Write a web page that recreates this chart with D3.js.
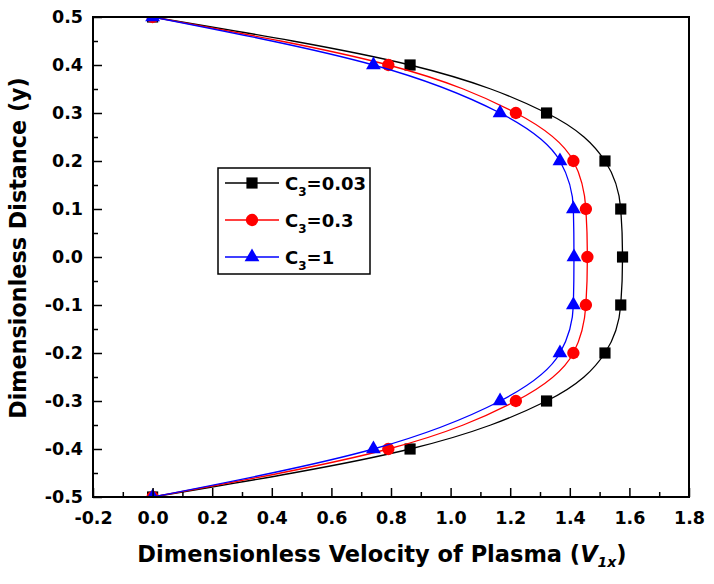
<!DOCTYPE html>
<html>
<head>
<meta charset="utf-8">
<script src="https://cdn.jsdelivr.net/npm/d3@7/dist/d3.min.js"></script>
<style>
  html, body { margin: 0; padding: 0; background: #fff; }
  svg { display: block; }
  text { font-family: "DejaVu Sans", sans-serif; font-weight: bold; fill: #000; }
</style>
</head>
<body>
<svg id="chart" width="714" height="584"></svg>
<script>
// ---- data ----
const yLevels = [0.5, 0.4, 0.3, 0.2, 0.1, 0.0, -0.1, -0.2, -0.3, -0.4, -0.5];
const vC003 = [0, 0.864, 1.322, 1.518, 1.571, 1.577, 1.571, 1.518, 1.322, 0.864, 0];
const vC03  = [0, 0.791, 1.219, 1.412, 1.454, 1.459, 1.454, 1.412, 1.219, 0.791, 0];
const vC1   = [0, 0.741, 1.166, 1.367, 1.412, 1.414, 1.412, 1.367, 1.166, 0.741, 0];
const seriesNames = ["0.03", "0.3", "1"];
const xTicks = [-0.2, 0.0, 0.2, 0.4, 0.6, 0.8, 1.0, 1.2, 1.4, 1.6, 1.8];
const yTicks = [-0.5, -0.4, -0.3, -0.2, -0.1, 0.0, 0.1, 0.2, 0.3, 0.4, 0.5];
const xMinor = [-0.1, 0.1, 0.3, 0.5, 0.7, 0.9, 1.1, 1.3, 1.5, 1.7];
const yMinor = [-0.45, -0.35, -0.25, -0.15, -0.05, 0.05, 0.15, 0.25, 0.35, 0.45];

const colors = ["#000000", "#ff0000", "#0000ff"];
const shapes = [d3.symbolSquare, d3.symbolCircle, d3.symbolTriangle];
const sizes = [125, 120, 95];

const L = 93, R = 689, T = 17, B = 497;
const svg = d3.select("#chart");
const x = d3.scaleLinear().domain([-0.2, 1.8]).range([L, R]);
const y = d3.scaleLinear().domain([-0.5, 0.5]).range([B, T]);

const fmt = v => (Math.abs(v) < 1e-9 ? "0.0" : v.toFixed(1));

svg.append("defs").append("clipPath").attr("id", "clip")
  .append("rect").attr("x", L).attr("y", T).attr("width", R - L).attr("height", B - T);

const series = [vC003, vC03, vC1].map((vals, i) => ({
  name: seriesNames[i], color: colors[i], shape: shapes[i], size: sizes[i],
  pts: vals.map((v, j) => ({ v: v, y: yLevels[j] }))
}));

const line = d3.line().x(d => x(d.v)).y(d => y(d.y)).curve(d3.curveMonotoneY);
const plot = svg.append("g").attr("clip-path", "url(#clip)");
series.forEach(s => {
  const g = plot.append("g");
  g.append("path").attr("d", line(s.pts)).attr("fill", "none")
    .attr("stroke", s.color).attr("stroke-width", 1.3);
  g.selectAll("path.m").data(s.pts).enter().append("path").attr("class", "m")
    .attr("transform", d => `translate(${x(d.v)},${y(d.y)})`)
    .attr("d", d3.symbol().type(s.shape).size(s.size)())
    .attr("fill", s.color);
});

// axes
const xAxis = d3.axisBottom(x).tickValues(xTicks).tickSize(-9).tickPadding(15).tickFormat(fmt);
const gx = svg.append("g").attr("transform", `translate(0,${B})`).call(xAxis);
gx.selectAll("text").style("font-size", "17.5px");
gx.select(".domain").remove();
const xAxisMinor = d3.axisBottom(x).tickValues(xMinor).tickSize(-5).tickFormat("");
const gxm = svg.append("g").attr("transform", `translate(0,${B})`).call(xAxisMinor);
gxm.select(".domain").remove();

const yAxis = d3.axisLeft(y).tickValues(yTicks).tickSize(-9).tickPadding(10).tickFormat(fmt);
const gy = svg.append("g").attr("transform", `translate(${L},0)`).call(yAxis);
gy.selectAll("text").style("font-size", "17.5px");
gy.select(".domain").remove();
const yAxisMinor = d3.axisLeft(y).tickValues(yMinor).tickSize(-5).tickFormat("");
const gym = svg.append("g").attr("transform", `translate(${L},0)`).call(yAxisMinor);
gym.select(".domain").remove();
svg.selectAll(".tick line").attr("stroke", "#000").attr("stroke-width", 1.5);

// frame
svg.append("rect").attr("x", L).attr("y", T).attr("width", R - L).attr("height", B - T)
  .attr("fill", "none").attr("stroke", "#000").attr("stroke-width", 2);

// axis titles
const xt = svg.append("text").attr("x", 382).attr("y", 562).attr("text-anchor", "middle")
  .style("font-size", "22.5px");
xt.append("tspan").text("Dimensionless Velocity of Plasma (");
xt.append("tspan").text("V").style("font-style", "italic");
xt.append("tspan").text("1x").style("font-style", "italic").style("font-size", "14px").attr("dy", 5);
xt.append("tspan").text(")").attr("dy", -5);

svg.append("text").attr("transform", "translate(26,248) rotate(-90)")
  .attr("text-anchor", "middle").style("font-size", "22.3px").text("Dimensionless Distance (y)");

// legend
const lg = svg.append("g");
lg.append("rect").attr("x", 218).attr("y", 168).attr("width", 152).attr("height", 106)
  .attr("fill", "#fff").attr("stroke", "#000").attr("stroke-width", 1.5);
const rowsY = [183, 220, 257];
series.forEach((s, i) => {
  const ry = rowsY[i];
  lg.append("line").attr("x1", 225).attr("x2", 279).attr("y1", ry).attr("y2", ry)
    .attr("stroke", s.color).attr("stroke-width", 1.3);
  lg.append("path").attr("transform", `translate(252,${ry})`)
    .attr("d", d3.symbol().type(s.shape).size(s.size)()).attr("fill", s.color);
  const t = lg.append("text").attr("x", 285).attr("y", ry + 7).style("font-size", "18px");
  t.append("tspan").text("C");
  t.append("tspan").text("3").style("font-size", "12px").attr("dy", 6);
  t.append("tspan").text("=" + s.name).attr("dy", -6);
});
</script>
</body>
</html>
